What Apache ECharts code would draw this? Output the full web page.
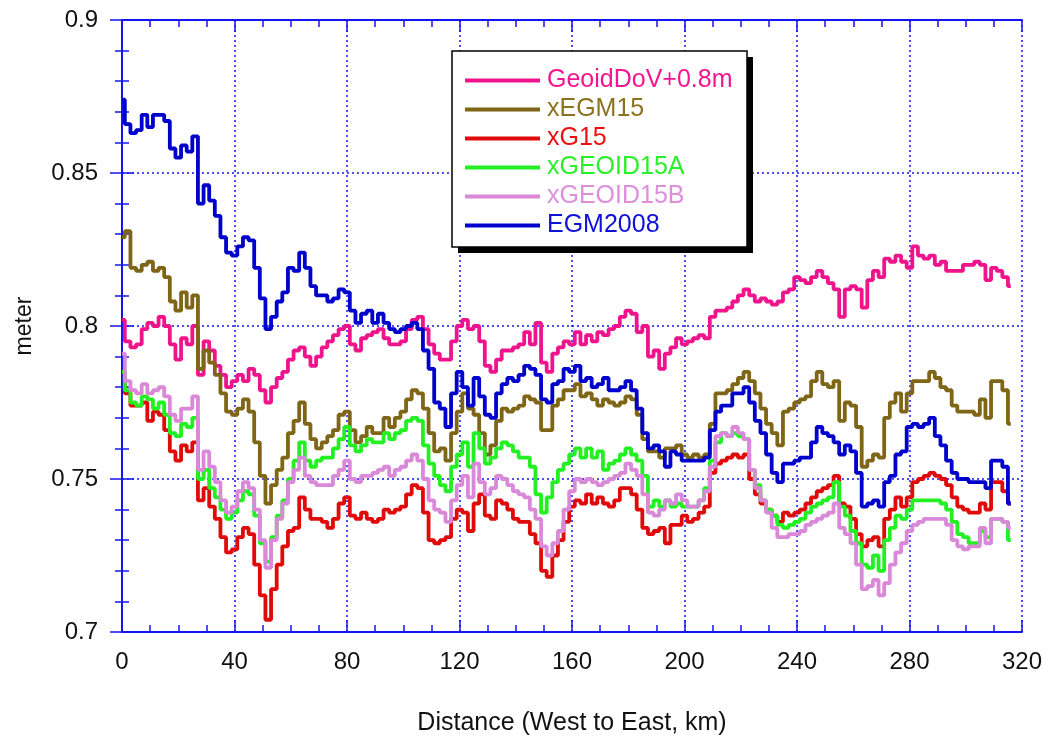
<!DOCTYPE html>
<html>
<head>
<meta charset="utf-8">
<script src="https://cdn.jsdelivr.net/npm/echarts@6/dist/echarts.min.js"></script>
<style>
html,body{margin:0;padding:0;background:#fff;}
#chart{width:1052px;height:738px;}
</style>
</head>
<body>
<div id="chart"></div>
<script>
// Distance along profile (km)
const distanceKm = [0,2,4,6,8,10,12,14,16,18,20,22,24,26,28,30,32,34,36,38,40,42,44,46,48,50,52,54,56,58,60,62,64,66,68,70,72,74,76,78,80,82,84,86,88,90,92,94,96,98,100,102,104,106,108,110,112,114,116,118,120,122,124,126,128,130,132,134,136,138,140,142,144,146,148,150,152,154,156,158,160,162,164,166,168,170,172,174,176,178,180,182,184,186,188,190,192,194,196,198,200,202,204,206,208,210,212,214,216,218,220,222,224,226,228,230,232,234,236,238,240,242,244,246,248,250,252,254,256,258,260,262,264,266,268,270,272,274,276,278,280,282,284,286,288,290,292,294,296,298,300,302,304,306,308,310,312,314,316];

const seriesNames = ['GeoidDoV+0.8m','xEGM15','xG15','xGEOID15A','xGEOID15B','EGM2008'];

const geoidDoV = [0.802,0.795,0.793,0.794,0.799,0.801,0.800,0.803,0.800,0.794,0.789,0.796,0.794,0.800,0.784,0.795,0.792,0.787,0.784,0.780,0.782,0.784,0.782,0.786,0.784,0.779,0.775,0.780,0.783,0.785,0.789,0.792,0.793,0.790,0.787,0.790,0.793,0.795,0.797,0.799,0.800,0.794,0.792,0.796,0.797,0.798,0.799,0.796,0.794,0.794,0.795,0.799,0.802,0.803,0.799,0.794,0.791,0.789,0.789,0.795,0.800,0.802,0.799,0.800,0.795,0.787,0.785,0.789,0.792,0.792,0.793,0.794,0.798,0.794,0.801,0.788,0.785,0.791,0.793,0.795,0.794,0.798,0.794,0.797,0.795,0.798,0.797,0.799,0.800,0.803,0.805,0.804,0.798,0.800,0.790,0.792,0.786,0.791,0.793,0.796,0.794,0.795,0.796,0.797,0.796,0.803,0.805,0.805,0.806,0.808,0.810,0.812,0.810,0.808,0.809,0.808,0.807,0.808,0.811,0.812,0.816,0.815,0.814,0.816,0.818,0.816,0.814,0.812,0.803,0.812,0.813,0.812,0.806,0.815,0.818,0.816,0.822,0.821,0.823,0.821,0.819,0.826,0.823,0.822,0.823,0.820,0.821,0.818,0.818,0.818,0.820,0.820,0.821,0.820,0.815,0.819,0.818,0.816,0.813];

const xEGM15 = [0.829,0.831,0.819,0.818,0.820,0.821,0.818,0.819,0.816,0.808,0.805,0.811,0.806,0.810,0.786,0.792,0.788,0.784,0.778,0.772,0.771,0.773,0.776,0.772,0.762,0.751,0.742,0.748,0.753,0.757,0.765,0.769,0.775,0.768,0.763,0.760,0.762,0.764,0.766,0.771,0.772,0.766,0.762,0.764,0.767,0.765,0.765,0.770,0.767,0.770,0.772,0.776,0.779,0.778,0.773,0.765,0.759,0.760,0.756,0.765,0.772,0.778,0.773,0.771,0.765,0.758,0.761,0.769,0.773,0.772,0.773,0.774,0.777,0.776,0.775,0.766,0.766,0.774,0.776,0.779,0.779,0.781,0.777,0.778,0.776,0.774,0.776,0.775,0.774,0.775,0.777,0.776,0.771,0.763,0.759,0.759,0.757,0.760,0.760,0.761,0.758,0.757,0.758,0.757,0.758,0.768,0.778,0.778,0.779,0.781,0.783,0.785,0.782,0.778,0.773,0.768,0.765,0.761,0.772,0.773,0.775,0.776,0.777,0.782,0.785,0.781,0.780,0.782,0.769,0.775,0.774,0.767,0.754,0.756,0.758,0.757,0.770,0.775,0.778,0.772,0.778,0.782,0.782,0.782,0.785,0.783,0.780,0.779,0.774,0.772,0.772,0.772,0.771,0.776,0.770,0.782,0.782,0.779,0.768];

const xG15 = [0.785,0.778,0.774,0.774,0.775,0.769,0.772,0.771,0.766,0.759,0.756,0.761,0.759,0.762,0.743,0.747,0.741,0.737,0.731,0.726,0.727,0.731,0.734,0.732,0.722,0.712,0.704,0.714,0.722,0.728,0.733,0.734,0.744,0.740,0.737,0.737,0.736,0.734,0.737,0.742,0.744,0.738,0.737,0.739,0.737,0.736,0.737,0.740,0.739,0.740,0.741,0.745,0.748,0.747,0.739,0.730,0.729,0.730,0.731,0.737,0.740,0.739,0.733,0.742,0.745,0.738,0.737,0.743,0.742,0.740,0.737,0.736,0.736,0.732,0.729,0.720,0.718,0.725,0.730,0.736,0.741,0.743,0.742,0.745,0.742,0.744,0.742,0.741,0.743,0.747,0.747,0.745,0.740,0.734,0.732,0.733,0.734,0.729,0.735,0.735,0.738,0.736,0.737,0.739,0.741,0.752,0.755,0.756,0.757,0.758,0.757,0.758,0.750,0.745,0.742,0.740,0.738,0.736,0.739,0.738,0.739,0.740,0.742,0.744,0.746,0.747,0.748,0.751,0.742,0.741,0.737,0.732,0.728,0.730,0.731,0.728,0.737,0.740,0.744,0.741,0.744,0.749,0.750,0.751,0.752,0.751,0.750,0.748,0.744,0.741,0.740,0.739,0.739,0.742,0.740,0.749,0.749,0.746,0.742];

const xGEOID15A = [0.785,0.779,0.775,0.774,0.777,0.776,0.773,0.775,0.771,0.765,0.764,0.768,0.767,0.770,0.750,0.753,0.747,0.744,0.740,0.737,0.739,0.743,0.746,0.745,0.738,0.729,0.723,0.731,0.738,0.743,0.750,0.756,0.762,0.756,0.754,0.756,0.757,0.757,0.760,0.763,0.767,0.761,0.759,0.761,0.763,0.762,0.762,0.765,0.763,0.765,0.766,0.769,0.770,0.769,0.761,0.755,0.751,0.748,0.746,0.754,0.758,0.762,0.754,0.765,0.760,0.755,0.757,0.760,0.762,0.761,0.759,0.757,0.757,0.754,0.745,0.739,0.744,0.749,0.753,0.755,0.758,0.760,0.757,0.760,0.757,0.759,0.753,0.755,0.756,0.758,0.760,0.758,0.756,0.751,0.741,0.743,0.741,0.743,0.741,0.742,0.741,0.741,0.741,0.743,0.747,0.756,0.762,0.765,0.764,0.765,0.764,0.763,0.753,0.748,0.743,0.740,0.738,0.735,0.734,0.735,0.736,0.737,0.739,0.741,0.742,0.743,0.744,0.749,0.741,0.738,0.733,0.729,0.722,0.721,0.725,0.720,0.730,0.734,0.738,0.737,0.740,0.743,0.743,0.743,0.743,0.743,0.742,0.740,0.736,0.732,0.731,0.729,0.729,0.733,0.731,0.737,0.737,0.736,0.730];

const xGEOID15B = [0.791,0.782,0.779,0.778,0.781,0.778,0.779,0.780,0.777,0.771,0.769,0.773,0.773,0.777,0.753,0.759,0.754,0.749,0.743,0.739,0.741,0.746,0.749,0.747,0.740,0.730,0.721,0.730,0.737,0.742,0.749,0.753,0.757,0.751,0.749,0.748,0.748,0.748,0.751,0.753,0.756,0.750,0.749,0.751,0.751,0.752,0.753,0.754,0.751,0.753,0.754,0.756,0.758,0.756,0.750,0.743,0.740,0.739,0.736,0.743,0.748,0.751,0.744,0.755,0.749,0.745,0.747,0.751,0.750,0.748,0.746,0.745,0.744,0.740,0.737,0.728,0.725,0.729,0.733,0.740,0.746,0.750,0.749,0.750,0.749,0.748,0.749,0.750,0.751,0.752,0.755,0.753,0.751,0.745,0.739,0.738,0.740,0.743,0.742,0.745,0.743,0.741,0.741,0.743,0.746,0.754,0.764,0.765,0.764,0.767,0.765,0.763,0.753,0.747,0.743,0.739,0.734,0.731,0.731,0.732,0.732,0.733,0.735,0.736,0.737,0.738,0.739,0.742,0.734,0.732,0.729,0.722,0.714,0.715,0.717,0.712,0.716,0.722,0.726,0.729,0.733,0.735,0.736,0.737,0.737,0.737,0.737,0.735,0.730,0.728,0.727,0.728,0.728,0.734,0.729,0.737,0.737,0.736,0.734];

const egm2008 = [0.874,0.866,0.863,0.864,0.869,0.865,0.869,0.869,0.867,0.858,0.855,0.859,0.857,0.862,0.840,0.846,0.841,0.836,0.829,0.824,0.823,0.826,0.829,0.828,0.819,0.809,0.799,0.803,0.808,0.811,0.819,0.818,0.824,0.819,0.813,0.810,0.810,0.808,0.809,0.812,0.811,0.805,0.801,0.804,0.805,0.801,0.804,0.801,0.799,0.798,0.799,0.800,0.801,0.799,0.792,0.786,0.775,0.773,0.767,0.778,0.785,0.780,0.774,0.783,0.777,0.771,0.770,0.778,0.781,0.783,0.782,0.784,0.787,0.786,0.784,0.776,0.775,0.781,0.782,0.786,0.785,0.787,0.782,0.783,0.780,0.781,0.783,0.779,0.779,0.780,0.782,0.779,0.773,0.765,0.760,0.761,0.759,0.754,0.759,0.758,0.756,0.756,0.756,0.756,0.757,0.766,0.772,0.774,0.774,0.778,0.778,0.780,0.775,0.769,0.765,0.758,0.752,0.749,0.755,0.755,0.756,0.757,0.757,0.762,0.767,0.765,0.764,0.762,0.758,0.761,0.759,0.752,0.741,0.742,0.743,0.741,0.749,0.751,0.758,0.759,0.767,0.768,0.767,0.768,0.770,0.764,0.761,0.756,0.752,0.750,0.750,0.749,0.749,0.749,0.747,0.756,0.756,0.754,0.742];

const seriesValues = [geoidDoV, xEGM15, xG15, xGEOID15A, xGEOID15B, egm2008];
const lineColors = ['#F0148C','#7F6516','#E00A0A','#22F022','#DA88D8','#0000CC'];
const textColors = ['#F5168F','#8C7220','#EE1010','#2AF02A','#DE8FDC','#1010D8'];

const xTicks = [0,40,80,120,160,200,240,280,320];
const yTicks = [0.7,0.75,0.8,0.85,0.9];

const AX = '#1414F5';
const FONT = "'Liberation Sans', Arial, sans-serif";

const chart = echarts.init(document.getElementById('chart'), null, {renderer:'canvas'});

const series = seriesNames.map((name, i) => ({
  name: name,
  type: 'line',
  step: 'middle',
  symbol: 'none',
  data: distanceKm.map((d, k) => [d, seriesValues[i][k]]),
  lineStyle: {color: lineColors[i], width: 3.8},
  itemStyle: {color: lineColors[i]},
  emphasis: {disabled: true},
  z: 2 + i
}));

const commonX = {
  type: 'value', min: xTicks[0], max: xTicks[xTicks.length-1], interval: 40,
  axisLine: {show: true, lineStyle: {color: AX, width: 2}},
  axisTick: {show: true, inside: true, length: 12, lineStyle: {color: AX, width: 1.5}},
  minorTick: {show: true, splitNumber: 4, length: 7, lineStyle: {color: AX, width: 1.5}}
};
const commonY = {
  type: 'value', min: yTicks[0], max: yTicks[yTicks.length-1], interval: 0.05,
  axisLine: {show: true, lineStyle: {color: AX, width: 2}},
  axisTick: {show: true, inside: true, length: 12, lineStyle: {color: AX, width: 1.5}},
  minorTick: {show: true, splitNumber: 5, length: 7, lineStyle: {color: AX, width: 1.5}}
};

const option = {
  animation: false,
  backgroundColor: '#ffffff',
  grid: {left: 122, right: 30, top: 20, bottom: 106, containLabel: false, outerBoundsMode: 'none'},
  xAxis: [
    Object.assign({}, commonX, {
      position: 'bottom',
      name: 'Distance (West to East, km)',
      nameLocation: 'middle', nameGap: 79,
      nameTextStyle: {fontFamily: FONT, fontSize: 25, color: '#111111'},
      axisLabel: {fontFamily: FONT, fontSize: 24, color: '#111111', margin: 18},
      splitLine: {show: true, lineStyle: {color: AX, width: 1.5, type: [2, 3]}}
    }),
    Object.assign({}, commonX, {
      position: 'top',
      axisLabel: {show: false},
      splitLine: {show: false}
    })
  ],
  yAxis: [
    Object.assign({}, commonY, {
      position: 'left',
      name: 'meter',
      nameLocation: 'middle', nameGap: 86, nameRotate: 90,
      nameTextStyle: {fontFamily: FONT, fontSize: 23, color: '#111111'},
      axisLabel: {fontFamily: FONT, fontSize: 24, color: '#111111', margin: 24},
      splitLine: {show: true, lineStyle: {color: AX, width: 1.5, type: [2, 3]}}
    }),
    Object.assign({}, commonY, {
      position: 'right',
      axisLabel: {show: false},
      splitLine: {show: false}
    })
  ],
  graphic: [{
    type: 'rect',
    z: 49,
    shape: {x: 458, y: 57, width: 295, height: 196},
    style: {fill: '#000000', stroke: null}
  }, {
    type: 'rect',
    z: 50,
    shape: {x: 452, y: 51, width: 295, height: 196},
    style: {fill: '#ffffff', stroke: '#000000', lineWidth: 1.5}
  }],
  legend: {
    z: 60,
    orient: 'vertical',
    left: 465, top: 68,
    padding: 0,
    itemGap: 4,
    itemWidth: 75, itemHeight: 4,
    icon: 'rect',
    selectedMode: false,
    data: seriesNames.map((n, i) => ({
      name: n,
      textStyle: {color: textColors[i], fontFamily: FONT, fontSize: 25, lineHeight: 25, padding: [0,0,0,2]}
    }))
  },
  series: series
};

chart.setOption(option);
</script>
</body>
</html>
